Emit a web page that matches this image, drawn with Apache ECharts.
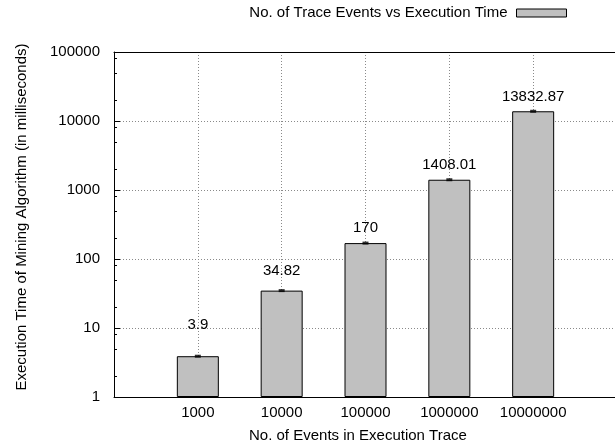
<!DOCTYPE html>
<html>
<head>
<meta charset="utf-8">
<script src="https://cdn.jsdelivr.net/npm/echarts@6/dist/echarts.min.js"></script>
<style>
  html, body { margin: 0; padding: 0; background: #fff; }
  #chart { width: 615px; height: 444px; }
</style>
</head>
<body>
<div id="chart"></div>
<script>
// Trace sizes (x categories) and measured execution times in ms
const categories = ['1000', '10000', '100000', '1000000', '10000000'];
const execTimes = [3.9, 34.82, 170, 1408.01, 13832.87];
const yTickLabels = ['1', '10', '100', '1000', '10000', '100000'];
const minorTickValues = [2, 5, 8, 20, 50, 80, 200, 500, 800, 2000, 5000, 8000, 20000, 50000, 80000];

const seriesName = 'No. of Trace Events vs Execution Time';
const FONT = 'Liberation Sans, Arial, Helvetica, sans-serif';
const labelGaps = [24, 12, 8, 7, 6.5];

const chart = echarts.init(document.getElementById('chart'), null, { renderer: 'canvas' });

const gridLine = () => ({ show: true, showMinLine: false, showMaxLine: false,
  lineStyle: { color: '#8a8a8a', width: 1, type: [1, 2] } });
const blackLine = () => ({ show: true, lineStyle: { color: '#000', width: 1 } });

chart.setOption({
  animation: false,
  backgroundColor: '#fff',
  textStyle: { fontFamily: FONT },
  grid: {
    left: 114, right: -2, top: 52, bottom: 47,
    show: false,
    outerBoundsMode: 'none', containLabel: false
  },
  legend: {
    data: [seriesName],
    right: 48, top: 5.5, padding: 0,
    align: 'right',
    itemWidth: 50, itemHeight: 8,
    icon: 'rect',
    itemStyle: { color: '#c0c0c0', borderColor: '#000', borderWidth: 1 },
    textStyle: { fontSize: 15, color: '#000', fontFamily: FONT, padding: [0, 4, 0, 0] },
    selectedMode: false
  },
  xAxis: [
    {
      type: 'value', min: 0, max: 6, interval: 1,
      axisLine: blackLine(),
      axisTick: { show: false },
      axisLabel: {
        fontSize: 15, color: '#000', margin: 8, fontFamily: FONT,
        formatter: v => (v >= 1 && v <= categories.length) ? categories[v - 1] : ''
      },
      splitLine: gridLine()
    },
    {
      // top frame edge
      type: 'value', min: 0, max: 6, position: 'top',
      axisLine: blackLine(),
      axisTick: { show: false },
      axisLabel: { show: false },
      splitLine: { show: false }
    }
  ],
  yAxis: [
    {
      type: 'log', logBase: 10, min: 1, max: 100000,
      axisLine: blackLine(),
      axisTick: { show: true, inside: true, length: 6, lineStyle: { color: '#000' } },
      axisLabel: {
        fontSize: 15, color: '#000', margin: 14, fontFamily: FONT,
        formatter: v => yTickLabels[Math.round(Math.log10(v))]
      },
      splitLine: gridLine(),
      minorTick: { show: false }
    },
    {
      // log10-space companion axis carrying the minor ticks
      type: 'value', min: 0, max: 5, position: 'left',
      axisLine: { show: false },
      axisTick: {
        show: true, inside: true, length: 3, lineStyle: { color: '#000' },
        customValues: minorTickValues.map(v => Math.log10(v))
      },
      axisLabel: { show: false },
      splitLine: { show: false }
    }
  ],
  graphic: [
    {
      type: 'text', x: 22, y: 217, rotation: Math.PI / 2,
      style: {
        text: 'Execution Time of Mining Algorithm (in milliseconds)',
        font: '15px ' + FONT, fill: '#000',
        textAlign: 'center', textVerticalAlign: 'middle'
      }
    },
    {
      type: 'text', x: 249, y: 436,
      style: {
        text: 'No. of Events in Execution Trace',
        font: '15px ' + FONT, fill: '#000',
        textAlign: 'left', textVerticalAlign: 'middle'
      }
    }
  ],
  series: [
    {
      name: seriesName,
      type: 'bar',
      xAxisIndex: 0, yAxisIndex: 0,
      barWidth: 42,
      itemStyle: { color: '#c0c0c0', borderColor: '#000', borderWidth: 1 },
      label: {
        show: true, position: 'top', fontSize: 15, color: '#000', fontFamily: FONT,
        formatter: p => String(execTimes[p.dataIndex])
      },
      data: execTimes.map((v, i) => ({ value: [i + 1, v], label: { distance: labelGaps[i] } })),
      z: 2
    },
    {
      // error-bar caps at the top of each bar
      name: 'caps',
      type: 'scatter',
      xAxisIndex: 0, yAxisIndex: 0,
      symbol: 'rect',
      symbolSize: [6, 3],
      itemStyle: { color: '#000' },
      data: execTimes.map((v, i) => [i + 1, v]),
      z: 3,
      silent: true
    }
  ]
});
</script>
</body>
</html>
